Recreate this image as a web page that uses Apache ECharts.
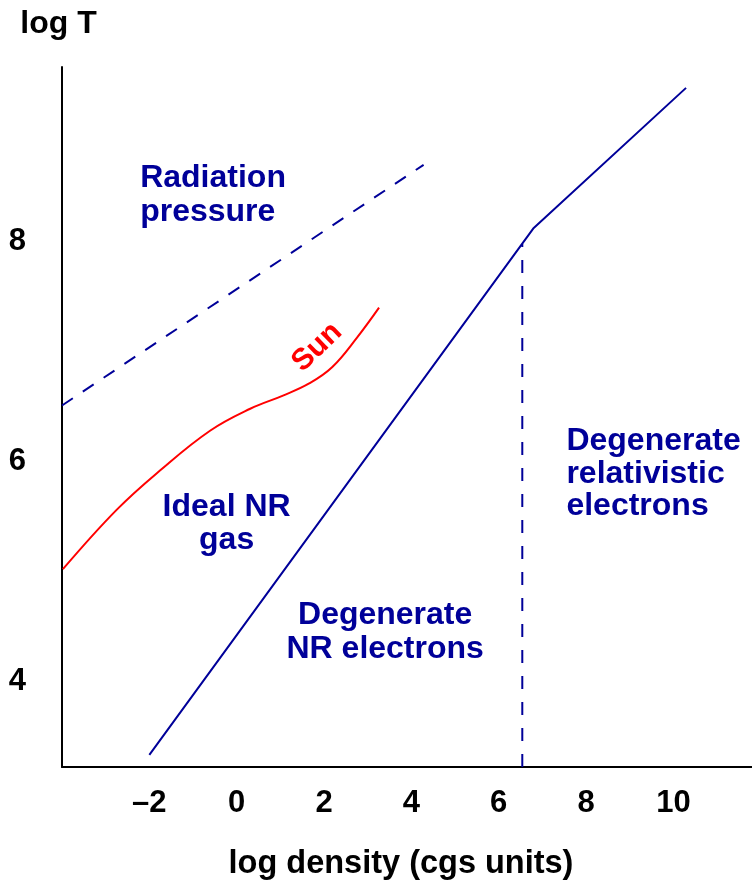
<!DOCTYPE html>
<html><head><meta charset="utf-8">
<script src="https://cdn.jsdelivr.net/npm/echarts@6/dist/echarts.min.js"></script>
<style>html,body{margin:0;padding:0;background:#fff}#c{width:752px;height:885px}</style>
</head><body><div id="c"></div>
<script>
// ---- data ----
const xTickValues = [-2, 0, 2, 4, 6, 8, 10];
const yTickValues = [4, 6, 8];
const degenerateLine = [[-2, 3.33], [6.79, 8.12], [10.29, 9.40]];
const radiationLine = [[-4, 6.51], [4.28, 8.70]];
const relativisticBoundary = [[6.54, 3.22], [6.54, 7.98]];
const sunX = [-3.98, -2.75, -1.75, -0.61, 0.31, 1.06, 1.66, 2.19, 2.76, 3.26];
const sunY = [5.02, 5.56, 5.92, 6.28, 6.48, 6.60, 6.71, 6.86, 7.13, 7.40];
const labelTexts = ['Radiation\npressure', 'Ideal NR\ngas', 'Degenerate\nNR electrons', 'Degenerate\nrelativistic\nelectrons', 'Sun'];
const labelX = [-2.21, -0.23, 3.40, 7.55, 1.84];
const labelY = [8.425, 5.43, 4.45, 5.885, 7.04];

// ---- styles ----
const NAVY = '#000099';
const FONT = "'Liberation Sans', Arial, Helvetica, sans-serif";
const labelStyles = [
  {align: 'left', color: NAVY, lineHeight: 34, fontSize: 32, rotate: 0},
  {align: 'center', color: NAVY, lineHeight: 33, fontSize: 32, rotate: 0},
  {align: 'center', color: NAVY, lineHeight: 34, fontSize: 32, rotate: 0},
  {align: 'left', color: NAVY, lineHeight: 32.5, fontSize: 32, rotate: 0},
  {align: 'center', color: '#ff0000', lineHeight: 30, fontSize: 30, rotate: 44}
];

const sunData = sunX.map((x, i) => [x, sunY[i]]);
const annData = labelTexts.map((t, i) => ({
  value: [labelX[i], labelY[i]],
  label: Object.assign({show: true, formatter: t, position: 'inside', verticalAlign: 'middle',
    fontWeight: 'bold', fontFamily: FONT, opacity: 1}, labelStyles[i])
}));

const chart = echarts.init(document.getElementById('c'), null, {renderer: 'canvas'});
chart.setOption({
  animation: false,
  backgroundColor: '#fff',
  grid: {left: 62, right: 0, top: 67, bottom: 118, containLabel: false, outerBoundsMode: 'none'},
  xAxis: {
    type: 'value', min: -4, max: 11.8, interval: 2,
    axisLine: {show: true, onZero: false, lineStyle: {color: '#000', width: 2}},
    axisTick: {show: false}, splitLine: {show: false},
    axisLabel: {
      margin: 21, color: '#000', fontSize: 31, fontWeight: 'bold', fontFamily: FONT,
      customValues: xTickValues,
      formatter: v => (v < 0 ? '\u2013' + Math.abs(v) : String(v))
    },
    name: 'log density (cgs units)', nameLocation: 'middle', nameGap: 81,
    nameTextStyle: {color: '#000', fontSize: 32.5, fontWeight: 'bold', fontFamily: FONT, padding: [0, 12, 0, 0]}
  },
  yAxis: {
    type: 'value', min: 3.22, max: 9.59,
    axisLine: {show: true, onZero: false, lineStyle: {color: '#000', width: 2}},
    axisTick: {show: false}, splitLine: {show: false},
    axisLabel: {
      margin: 36, color: '#000', fontSize: 31, fontWeight: 'bold', fontFamily: FONT,
      customValues: yTickValues
    },
    name: 'log T', nameLocation: 'end', nameGap: 27,
    nameTextStyle: {color: '#000', fontSize: 32, fontWeight: 'bold', fontFamily: FONT, align: 'center', padding: [0, 7, 0, 0]}
  },
  series: [
    {type: 'line', data: degenerateLine, symbol: 'none', lineStyle: {color: NAVY, width: 2}, silent: true},
    {type: 'line', data: radiationLine, symbol: 'none', lineStyle: {color: NAVY, width: 2, type: [13, 12]}, silent: true},
    {type: 'line', data: relativisticBoundary, symbol: 'none', lineStyle: {color: NAVY, width: 2, type: [13, 13]}, silent: true},
    {type: 'line', data: sunData, symbol: 'none', smooth: 0.4, lineStyle: {color: '#ff0000', width: 2}, silent: true},
    {type: 'scatter', data: annData, symbolSize: 1, itemStyle: {color: 'rgba(0,0,0,0)', opacity: 1}, silent: true}
  ]
});
</script>
</body></html>
